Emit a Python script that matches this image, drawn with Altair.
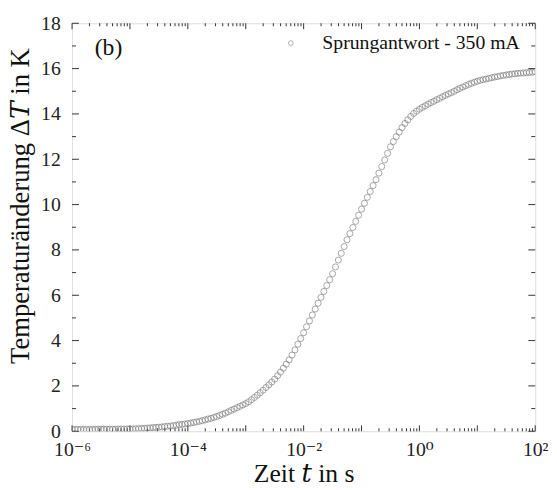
import altair as alt
import pandas as pd

# log10 of time in s (measurement sampled 20 points per decade)
log_t = [
    -6.00, -5.95, -5.90, -5.85, -5.80, -5.75, -5.70, -5.65, -5.60, -5.55,
    -5.50, -5.45, -5.40, -5.35, -5.30, -5.25, -5.20, -5.15, -5.10, -5.05,
    -5.00, -4.95, -4.90, -4.85, -4.80, -4.75, -4.70, -4.65, -4.60, -4.55,
    -4.50, -4.45, -4.40, -4.35, -4.30, -4.25, -4.20, -4.15, -4.10, -4.05,
    -4.00, -3.95, -3.90, -3.85, -3.80, -3.75, -3.70, -3.65, -3.60, -3.55,
    -3.50, -3.45, -3.40, -3.35, -3.30, -3.25, -3.20, -3.15, -3.10, -3.05,
    -3.00, -2.95, -2.90, -2.85, -2.80, -2.75, -2.70, -2.65, -2.60, -2.55,
    -2.50, -2.45, -2.40, -2.35, -2.30, -2.25, -2.20, -2.15, -2.10, -2.05,
    -2.00, -1.95, -1.90, -1.85, -1.80, -1.75, -1.70, -1.65, -1.60, -1.55,
    -1.50, -1.45, -1.40, -1.35, -1.30, -1.25, -1.20, -1.15, -1.10, -1.05,
    -1.00, -0.95, -0.90, -0.85, -0.80, -0.75, -0.70, -0.65, -0.60, -0.55,
    -0.50, -0.45, -0.40, -0.35, -0.30, -0.25, -0.20, -0.15, -0.10, -0.05,
    0.00, 0.05, 0.10, 0.15, 0.20, 0.25, 0.30, 0.35, 0.40, 0.45,
    0.50, 0.55, 0.60, 0.65, 0.70, 0.75, 0.80, 0.85, 0.90, 0.95,
    1.00, 1.05, 1.10, 1.15, 1.20, 1.25, 1.30, 1.35, 1.40, 1.45,
    1.50, 1.55, 1.60, 1.65, 1.70, 1.75, 1.80, 1.85, 1.90, 1.95,
    2.00,
]

# temperature change in K
delta_T = [
    0.08, 0.08, 0.08, 0.08, 0.08, 0.08, 0.08, 0.08, 0.09, 0.09,
    0.09, 0.09, 0.09, 0.09, 0.09, 0.09, 0.10, 0.10, 0.10, 0.10,
    0.10, 0.10, 0.11, 0.11, 0.12, 0.13, 0.14, 0.15, 0.16, 0.17,
    0.18, 0.19, 0.21, 0.22, 0.23, 0.25, 0.27, 0.29, 0.30, 0.32,
    0.34, 0.36, 0.39, 0.41, 0.44, 0.47, 0.50, 0.54, 0.57, 0.61,
    0.65, 0.70, 0.75, 0.80, 0.86, 0.92, 0.98, 1.04, 1.10, 1.16,
    1.22, 1.30, 1.39, 1.49, 1.59, 1.70, 1.81, 1.93, 2.05, 2.17,
    2.30, 2.45, 2.61, 2.78, 2.96, 3.15, 3.36, 3.59, 3.84, 4.09,
    4.35, 4.61, 4.87, 5.13, 5.39, 5.65, 5.91, 6.17, 6.43, 6.69,
    6.95, 7.25, 7.55, 7.85, 8.15, 8.45, 8.72, 8.99, 9.26, 9.53,
    9.80, 10.06, 10.32, 10.58, 10.84, 11.10, 11.39, 11.68, 11.97, 12.26,
    12.55, 12.78, 13.00, 13.20, 13.40, 13.58, 13.74, 13.89, 14.02, 14.12,
    14.21, 14.29, 14.36, 14.43, 14.50, 14.56, 14.63, 14.69, 14.76, 14.82,
    14.88, 14.94, 15.00, 15.07, 15.13, 15.19, 15.25, 15.30, 15.35, 15.40,
    15.44, 15.48, 15.51, 15.54, 15.57, 15.60, 15.63, 15.65, 15.68, 15.70,
    15.72, 15.74, 15.76, 15.77, 15.79, 15.80, 15.81, 15.82, 15.83, 15.84,
    15.86,
]

series_name = "Sprungantwort - 350 mA"

x_major = [1e-6, 1e-5, 1e-4, 1e-3, 1e-2, 1e-1, 1e0, 1e1, 1e2]
x_labels = [1e-6, 1e-4, 1e-2, 1e0, 1e2]
x_minor = [m * 10.0 ** e for e in range(-6, 2) for m in range(2, 10)]
y_major = [0, 2, 4, 6, 8, 10, 12, 14, 16, 18]
y_minor = [1, 3, 5, 7, 9, 11, 13, 15, 17]

W, H = 470, 414
FONT = "Liberation Serif, DejaVu Serif, serif"
AX = "#333333"

df = pd.DataFrame({"t": [10.0 ** v for v in log_t], "dT": delta_T, "s": series_name})

xscale = alt.Scale(type="log", domain=[1e-6, 1e2], nice=False)
yscale = alt.Scale(domain=[0, 18], nice=False)

label_expr = (
    "round(log(datum.value)/LN10) == -6 ? '10⁻⁶' : "
    "round(log(datum.value)/LN10) == -4 ? '10⁻⁴' : "
    "round(log(datum.value)/LN10) == -2 ? '10⁻²' : "
    "round(log(datum.value)/LN10) == 0 ? '10⁰' : '10²'"
)

points = alt.Chart(df).mark_point(shape="circle", filled=False, size=38, strokeWidth=0.9, clip=True).encode(
    x=alt.X("t:Q", scale=xscale,
            axis=alt.Axis(values=x_labels, labelExpr=label_expr, tickSize=0, domain=False, grid=False,
                          labelPadding=9, labelFontSize=20, labelFont=FONT, labelColor="#222",
                          title="Zeit 𝑡 in s", titleFontSize=26, titleFont=FONT, titleFontWeight="normal",
                          titlePadding=1, titleColor="#111", labelFlush=False)),
    y=alt.Y("dT:Q", scale=yscale,
            axis=alt.Axis(values=y_major, tickSize=0, domain=False, grid=False, labelPadding=12,
                          labelFontSize=20, labelFont=FONT, labelColor="#222",
                          title="Temperaturänderung Δ𝑇 in K", titleFontSize=27, titleFont=FONT,
                          titleFontWeight="normal", titlePadding=6, titleColor="#111", titleY=185)),
    color=alt.Color("s:N", scale=alt.Scale(range=["#747474"]),
                    legend=alt.Legend(title=None, orient="none", legendX=212, legendY=10,
                                      labelFont=FONT, labelFontSize=20, labelColor="#111", labelLimit=0,
                                      symbolSize=22, symbolStrokeWidth=0.8, symbolType="circle",
                                      symbolFillColor="transparent", labelOffset=22)),
)

xmaj = pd.DataFrame({"v": x_major})
xmin = pd.DataFrame({"v": x_minor})
ymaj = pd.DataFrame({"v": y_major})
ymin = pd.DataFrame({"v": y_minor})


def xticks(d, length):
    bottom = alt.Chart(d).mark_rule(color=AX, strokeWidth=1).encode(
        x=alt.X("v:Q", scale=xscale), y=alt.value(H), y2=alt.value(H - length))
    top = alt.Chart(d).mark_rule(color=AX, strokeWidth=1).encode(
        x=alt.X("v:Q", scale=xscale), y=alt.value(0), y2=alt.value(length))
    return bottom + top


def yticks(d, length):
    left = alt.Chart(d).mark_rule(color=AX, strokeWidth=1).encode(
        y=alt.Y("v:Q", scale=yscale), x=alt.value(0), x2=alt.value(length))
    right = alt.Chart(d).mark_rule(color=AX, strokeWidth=1).encode(
        y=alt.Y("v:Q", scale=yscale), x=alt.value(W), x2=alt.value(W - length))
    return left + right


label_b = alt.Chart(pd.DataFrame({"txt": ["(b)"]})).mark_text(
    font=FONT, fontSize=24, color="#111", align="left", baseline="middle"
).encode(text="txt:N", x=alt.value(23), y=alt.value(25))

chart = alt.layer(
    xticks(xmaj, 6), xticks(xmin, 3), yticks(ymaj, 7), yticks(ymin, 4), points, label_b
).properties(
    width=W, height=H, autosize=alt.AutoSizeParams(type="none"),
    padding={"left": 65, "top": 12, "right": 14, "bottom": 48},
).configure_view(stroke=AX, strokeWidth=1.5).configure(background="white")

chart.save("out.html", embed_options={"renderer": "svg", "actions": False})
